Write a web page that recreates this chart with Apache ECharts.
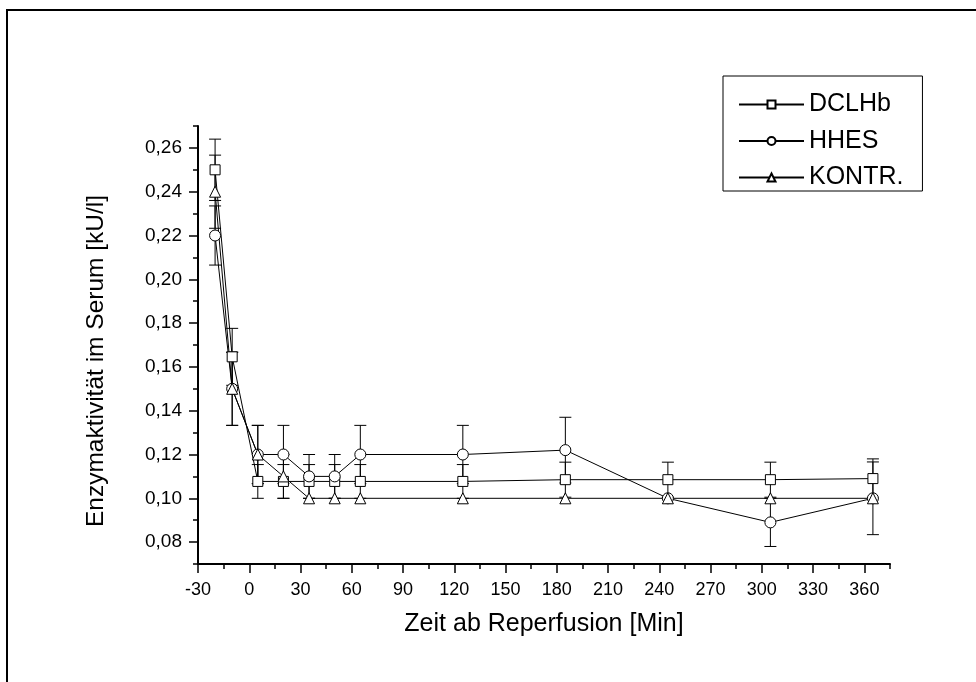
<!DOCTYPE html>
<html>
<head>
<meta charset="utf-8">
<script src="https://cdn.jsdelivr.net/npm/echarts@6/dist/echarts.min.js"></script>
<style>html,body{margin:0;padding:0;background:#fff}#c{width:976px;height:682px}</style>
</head>
<body>
<div id="c"></div>
<script>
var times = [-20, -10, 5, 20, 35, 50, 65, 125, 185, 245, 305, 365];
var dclhb = [0.250, 0.1646, 0.1077, 0.1077, 0.1077, 0.1077, 0.1077, 0.1077, 0.1085, 0.1085, 0.1085, 0.109];
var dclhbErr = [0.014, 0.013, 0.0077, 0.0077, 0.0077, 0.0077, 0.0077, 0.0077, 0.008, 0.008, 0.008, 0.009];
var hhes = [0.220, 0.150, 0.120, 0.120, 0.110, 0.110, 0.120, 0.120, 0.122, 0.100, 0.089, 0.100];
var hhesErr = [0.0135, 0.0167, 0.0133, 0.0133, 0.010, 0.010, 0.0133, 0.0133, 0.015, 0.0, 0.011, 0.0166];
var kontr = [0.240, 0.150, 0.120, 0.110, 0.100, 0.100, 0.100, 0.100, 0.100, 0.100, 0.100, 0.100];
var kontrErr = [0.0167, 0.0167, 0.0133, 0.010, 0, 0, 0, 0, 0, 0, 0, 0];
var seriesNames = ['DCLHb', 'HHES', 'KONTR.'];
var xTicks = [-30, 0, 30, 60, 90, 120, 150, 180, 210, 240, 270, 300, 330, 360];
var yTicks = [0.08, 0.10, 0.12, 0.14, 0.16, 0.18, 0.20, 0.22, 0.24, 0.26];

var FONT = 'Liberation Sans, Arial, sans-serif';
function pairs(v) { return times.map(function (t, i) { return [t, v[i]]; }); }
function triples(v, e) { return times.map(function (t, i) { return [t, v[i], e[i]]; }); }

function errSeries(name, v, e) {
  return {
    name: name, type: 'custom', xAxisIndex: 0, yAxisIndex: 0, z: 1,
    data: triples(v, e),
    renderItem: function (params, api) {
      var x = api.value(0), y = api.value(1), er = api.value(2);
      if (!er) return null;
      var top = api.coord([x, y + er]);
      var bot = api.coord([x, y - er]);
      var hw = 6;
      var st = { stroke: '#000', lineWidth: 1 };
      return { type: 'group', children: [
        { type: 'line', shape: { x1: top[0], y1: top[1], x2: bot[0], y2: bot[1] }, style: st },
        { type: 'line', shape: { x1: top[0] - hw, y1: top[1], x2: top[0] + hw, y2: top[1] }, style: st },
        { type: 'line', shape: { x1: bot[0] - hw, y1: bot[1], x2: bot[0] + hw, y2: bot[1] }, style: st }
      ]};
    }
  };
}
function lineSeries(name, v, sym, size) {
  return {
    name: name, type: 'line', xAxisIndex: 0, yAxisIndex: 0, z: 3,
    data: pairs(v), symbol: sym, symbolSize: size, showAllSymbol: true,
    lineStyle: { color: '#000', width: 1 },
    itemStyle: { color: '#fff', borderColor: '#000', borderWidth: 1 },
    emphasis: { disabled: true }, animation: false
  };
}

var chart = echarts.init(document.getElementById('c'));
chart.setOption({
  animation: false,
  backgroundColor: '#fff',
  graphic: [{
    type: 'rect', shape: { x: 7, y: 10, width: 1000, height: 700 },
    style: { fill: 'none', stroke: '#000', lineWidth: 2 }, z: 100
  }],
  grid: { left: 198, top: 126, right: 86, bottom: 118 },
  legend: {
    data: seriesNames, orient: 'vertical', left: 723, top: 76,
    padding: [16, 19, 1, 15], itemGap: 11.5, itemWidth: 65, itemHeight: 10, itemTextGap: 10,
    borderColor: '#000', borderWidth: 1, backgroundColor: '#fff',
    textStyle: { color: '#000', fontSize: 25, fontFamily: FONT, lineHeight: 24 }
  },
  xAxis: [{
    type: 'value', min: -30, max: 375, position: 'bottom',
    name: 'Zeit ab Reperfusion [Min]', nameLocation: 'middle', nameGap: 48,
    nameTextStyle: { color: '#000', fontSize: 25, fontFamily: FONT },
    axisLine: { show: true, onZero: false, lineStyle: { color: '#000', width: 2 } },
    axisTick: { show: true, length: 9, customValues: xTicks, lineStyle: { color: '#000', width: 1.5 } },
    axisLabel: { customValues: xTicks, color: '#000', fontSize: 18, fontFamily: FONT, margin: 17 },
    splitLine: { show: false }
  }, {
    type: 'value', min: -30, max: 375, interval: 15, position: 'bottom', gridIndex: 0,
    axisLine: { show: false, onZero: false },
    axisTick: { show: true, length: 5, lineStyle: { color: '#000', width: 1.5 } },
    axisLabel: { show: false }, splitLine: { show: false }
  }],
  yAxis: [{
    type: 'value', min: 0.07, max: 0.27, position: 'left',
    name: 'Enzymaktivität im Serum [kU/l]', nameLocation: 'middle', nameGap: 89,
    nameTextStyle: { color: '#000', fontSize: 24.5, fontFamily: FONT, padding: [0, 32, 0, 0] },
    axisLine: { show: true, onZero: false, lineStyle: { color: '#000', width: 2 } },
    axisTick: { show: true, length: 9, customValues: yTicks, lineStyle: { color: '#000', width: 1.5 } },
    axisLabel: {
      customValues: yTicks, color: '#000', fontSize: 19, fontFamily: FONT, margin: 16,
      formatter: function (v) { return v.toFixed(2).replace('.', ','); }
    },
    splitLine: { show: false }
  }, {
    type: 'value', min: 0.07, max: 0.27, interval: 0.01, position: 'left', gridIndex: 0,
    axisLine: { show: false, onZero: false },
    axisTick: { show: true, length: 5, lineStyle: { color: '#000', width: 1.5 } },
    axisLabel: { show: false }, splitLine: { show: false }
  }],
  series: [
    errSeries('DCLHb-err', dclhb, dclhbErr),
    errSeries('HHES-err', hhes, hhesErr),
    errSeries('KONTR-err', kontr, kontrErr),
    lineSeries('DCLHb', dclhb, 'rect', 10),
    lineSeries('HHES', hhes, 'circle', 11),
    lineSeries('KONTR.', kontr, 'triangle', 11)
  ]
});
</script>
</body>
</html>
